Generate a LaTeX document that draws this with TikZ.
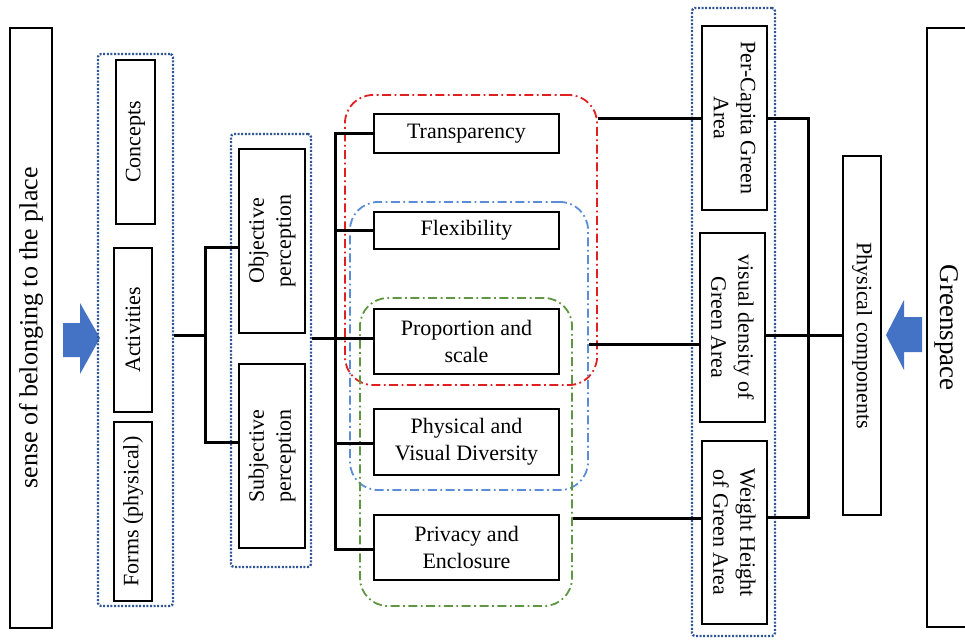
\documentclass[tikz,border=0pt]{standalone}
\usepackage{fontspec}
\setmainfont{Liberation Serif}
\definecolor{grpblue}{RGB}{47,85,151}
\definecolor{arrowblue}{RGB}{68,114,196}
\definecolor{ddred}{RGB}{224,32,32}
\definecolor{ddblue}{RGB}{90,140,215}
\definecolor{ddgreen}{RGB}{95,150,65}
\begin{document}
\begin{tikzpicture}[x=1pt,y=-1pt,
  box/.style={draw=black, line width=1.5pt, inner sep=2pt, align=center, font=\fontsize{22}{27}\selectfont},
  vbox/.style={box, rotate=90},
  rbox/.style={box, rotate=-90},
  grp/.style={draw=grpblue, line width=2.3pt, dash pattern=on 2pt off 1.6pt, rounded corners=3pt, inner sep=0pt},
  conn/.style={draw=black, line width=3pt},
  ddot/.style={line width=1.8pt, dash pattern=on 9pt off 3.5pt on 1.8pt off 3.5pt, rounded corners=28pt, inner sep=0pt},
]
\useasboundingbox (0,0) rectangle (965,642);

% dash-dot groups
\node[ddot, draw=ddred, minimum width=252pt, minimum height=290pt] (redg) at (471,240) {};
\node[ddot, draw=ddblue, minimum width=238pt, minimum height=288pt] (blueg) at (469,346) {};
\node[ddot, draw=ddgreen, minimum width=212pt, minimum height=308pt] (greeng) at (466,452) {};

% left
\node[vbox, font=\fontsize{26}{30}\selectfont, minimum width=600pt, minimum height=42pt] (sense) at (31,328) {sense of belonging to the place};
\fill[arrowblue] (63,323)--(80,323)--(80,303)--(100,338)--(80,374)--(80,357)--(63,357)--cycle;

\node[grp, minimum width=75pt, minimum height=552pt] (g1) at (135.5,330) {};
\node[vbox, minimum width=164pt, minimum height=39pt] (concepts) at (135.5,142) {Concepts};
\node[vbox, minimum width=164pt, minimum height=38pt] (activities) at (133,330) {Activities};
\node[vbox, minimum width=179pt, minimum height=38pt] (forms) at (133,511.5) {Forms (physical)};

\node[grp, minimum width=80pt, minimum height=433pt] (g2) at (271,350.5) {};
\node[vbox, minimum width=184pt, minimum height=66pt] (obj) at (272,241) {Objective\\perception};
\node[vbox, minimum width=184pt, minimum height=66pt] (subj) at (272,456) {Subjective\\perception};

% middle
\node[box, minimum width=185pt, minimum height=39pt] (trans) at (466.5,133.5) {Transparency};
\node[box, minimum width=185pt, minimum height=37pt] (flex) at (466.5,230.5) {Flexibility};
\node[box, minimum width=185pt, minimum height=65pt] (prop) at (466.5,341.5) {Proportion and\\scale};
\node[box, minimum width=185pt, minimum height=66pt] (phys) at (466.5,442) {Physical and\\Visual Diversity};
\node[box, minimum width=185pt, minimum height=65pt] (priv) at (466.5,547.5) {Privacy and\\Enclosure};

% right
\node[grp, minimum width=83pt, minimum height=628pt] (g3) at (733.5,322) {};
\node[rbox, minimum width=184pt, minimum height=65pt] (pc) at (734.5,118) {Per-Capita Green\\Area};
\node[rbox, minimum width=189pt, minimum height=65pt] (vd) at (732.5,327.5) {visual density of\\Green Area};
\node[rbox, minimum width=183pt, minimum height=65pt] (wh) at (734.5,532.5) {Weight Height\\of Green Area};
\node[rbox, minimum width=359pt, minimum height=38pt] (pcomp) at (862,335.5) {Physical components};
\node[rbox, font=\fontsize{27}{31}\selectfont, minimum width=599pt, minimum height=40pt] (green) at (947,327.5) {Greenspace};
\fill[arrowblue] (922,317)--(904,317)--(904,300)--(886,335)--(904,370)--(904,352)--(922,352)--cycle;

% connectors
\draw[conn] (g1.east |- 0,335) -- (205,335);
\draw[conn] (obj.north |- 0,247) -| (205,442) -- (subj.north |- 0,442);
\draw[conn] (g2.east |- 0,338) -- (335,338);
\draw[conn] (trans.west) -| (335,549) -- (priv.west |- 0,549);
\draw[conn] (335,230.5) -- (flex.west);
\draw[conn] (335,338) -- (prop.west |- 0,338);
\draw[conn] (335,443) -- (phys.west |- 0,443);

\draw[conn] (redg.east |- 0,118) -- (pc.south |- 0,118);
\draw[conn] (blueg.east |- 0,344) -- (vd.south |- 0,344);
\draw[conn] (greeng.east |- 0,518) -- (wh.south |- 0,518);
\draw[conn] (pc.north |- 0,118) -| (808,517) -- (wh.north |- 0,517);
\draw[conn] (vd.north |- 0,335) -- (pcomp.south |- 0,335);
\end{tikzpicture}
\end{document}
